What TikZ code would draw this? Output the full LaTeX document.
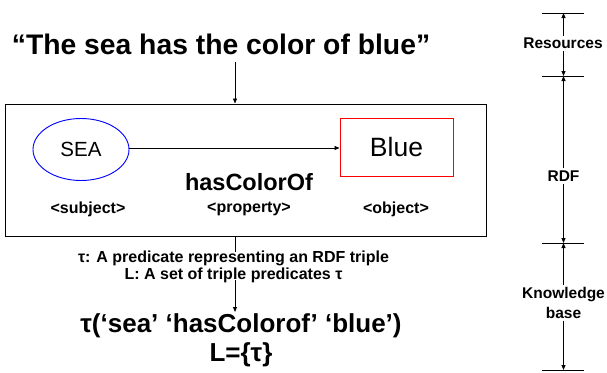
\documentclass[tikz,border=0pt]{standalone}
\usepackage{fontspec}
\setmainfont{Liberation Sans}
\usetikzlibrary{arrows.meta,shapes.geometric}
\begin{document}
\begin{tikzpicture}[x=1pt,y=-1pt,
  arr/.style={-{Triangle[length=5pt,width=4pt]},line width=0.9pt},
  tick/.style={line width=1pt},
  lbl/.style={font=\bfseries\fontsize{15.5}{16}\selectfont,inner sep=2pt,align=center},
  tag/.style={font=\bfseries\fontsize{16}{18}\selectfont,inner sep=0pt}]
\useasboundingbox (0,0) rectangle (607,372);
% title
\node[font=\bfseries\fontsize{28.3}{30}\selectfont,inner sep=0pt] (title) at (221,44) {“The sea has the color of blue”};
% main box
\node[draw,line width=1pt,minimum width=481pt,minimum height=132pt,inner sep=0pt] (box) at (245.5,170) {};
\coordinate (top) at (235,62);
\draw[arr] (top) -- (top |- box.north);
% SEA and Blue
\node[draw=blue,ellipse,line width=0.9pt,minimum width=96pt,minimum height=62pt,inner sep=0pt,font=\fontsize{20.5}{22}\selectfont] (sea) at (81,149.5) {SEA};
\node[draw=red,line width=1pt,minimum width=113pt,minimum height=58pt,inner sep=0pt,font=\fontsize{26.5}{28}\selectfont] (blue) at (396.5,147) {Blue};
\coordinate (ay) at (0,148);
\draw[arr,line width=0.7pt] (sea.east |- ay) -- (blue.west |- ay);
\node[font=\bfseries\fontsize{23.5}{25}\selectfont,inner sep=0pt] (prop) at (249,182) {hasColorOf};
\node[tag] (subj) at (88,209) {<subject>};
\node[tag] (propt) at (249,209) {<property>};
\node[tag] (obj) at (396,209) {<object>};
% explanation
\node[font=\bfseries\fontsize{16}{17}\selectfont,align=center,inner sep=1pt] (expl) at (233.5,266.5) {τ: A predicate representing an RDF triple\\L: A set of triple predicates τ};
\coordinate (bt) at (235,236);
\coordinate (bt2) at (235,252);
\draw[line width=0.9pt] (bt) -- (bt2);
\coordinate (at) at (235,280);
\coordinate (at2) at (235,312);
\node[font=\bfseries\fontsize{26}{29}\selectfont,align=center,inner sep=0pt,anchor=north] (form) at (241,313) {τ(‘sea’ ‘hasColorof’ ‘blue’)\\L=\{τ\}};
\draw[arr] (at) -- (at2);
% right scale
\foreach \n/\y in {t1/13,t2/76,t3/243,t4/370}{
  \coordinate (\n) at (563.5,\y);
  \draw[tick] (542,\y) -- (584,\y);
}
\node[lbl] (res) at (563,43.5) {Resources};
\node[lbl] (rdf) at (563.5,176) {RDF};
\node[lbl,font=\bfseries\fontsize{15.5}{19.5}\selectfont] (kb) at (563.5,303) {Knowledge\\base};
\draw[arr,line width=1pt] (res.north -| t1) -- (t1);
\draw[arr,line width=1pt] (res.south -| t2) -- (t2);
\draw[arr,line width=1pt] (rdf.north -| t2) -- (t2);
\draw[arr,line width=1pt] (rdf.south -| t3) -- (t3);
\draw[arr,line width=1pt] (kb.north -| t3) -- (t3);
\draw[arr,line width=1pt] (kb.south -| t4) -- (t4);
\end{tikzpicture}
\end{document}
